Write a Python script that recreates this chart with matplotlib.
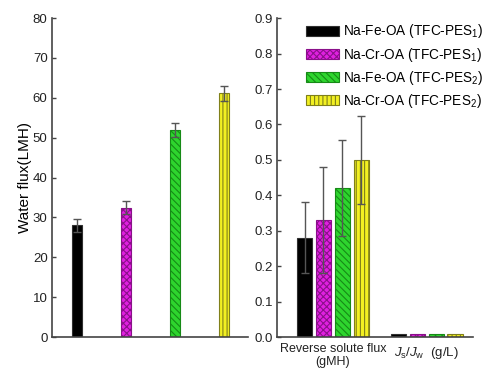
import numpy as np
import matplotlib.pyplot as plt

plt.rcParams['font.family'] = ['Liberation Sans', 'DejaVu Sans']
plt.rcParams['mathtext.fontset'] = 'custom'
plt.rcParams['mathtext.rm'] = 'Liberation Sans'
plt.rcParams['mathtext.it'] = 'Liberation Sans:italic'
plt.rcParams['hatch.linewidth'] = 0.8

# Data
labels = ['Na-Fe-OA (TFC-PES$_1$)', 'Na-Cr-OA (TFC-PES$_1$)',
          'Na-Fe-OA (TFC-PES$_2$)', 'Na-Cr-OA (TFC-PES$_2$)']
water_flux = [28.0, 32.5, 51.9, 61.1]
water_err = [1.7, 1.7, 1.8, 2.0]
rsf = [0.28, 0.33, 0.42, 0.50]
rsf_err = [0.10, 0.15, 0.135, 0.125]
ratio = [0.008, 0.010, 0.008, 0.008]
groups = ['Reverse solute flux\n(gMH)', r'$J_{\rm s}$/$J_{\rm w}$  (g/L)']

faces = ['black', '#e020e0', '#2ed52e', '#f2f022']
edges = ['#303030', '#8a108a', '#168a16', '#80801a']
hatches = [None, 'xxxxx', '\\\\\\\\\\', '||||']
spine_c = '#444444'

fig = plt.figure(figsize=(4.84, 3.70), dpi=100)
ax1 = fig.add_axes([0.107, 0.089, 0.405, 0.862])
ax2 = fig.add_axes([0.572, 0.089, 0.405, 0.862])

def style(ax):
    for s in ['top', 'right']:
        ax.spines[s].set_visible(False)
    for s in ['left', 'bottom']:
        ax.spines[s].set_color(spine_c)
        ax.spines[s].set_linewidth(1.2)
    ax.tick_params(axis='y', direction='in', length=3, width=1, colors=spine_c,
                   labelcolor='#222222', labelsize=9.5, pad=3)
    ax.tick_params(axis='x', length=0, labelbottom=False)

# left panel: water flux
x1 = np.arange(1, 5)
for i in range(4):
    ax1.bar(x1[i], water_flux[i], 0.2, color=faces[i], edgecolor=edges[i],
            hatch=hatches[i], linewidth=0.8, zorder=2)
    ax1.errorbar(x1[i], water_flux[i], yerr=water_err[i], fmt='none',
                 ecolor='#555555', elinewidth=1, capsize=3, capthick=1, zorder=3)
ax1.set_xlim(0.49, 4.49)
ax1.set_ylim(0, 80)
ax1.set_yticks(np.arange(0, 81, 10))
ax1.set_ylabel('Water flux(LMH)', fontsize=11)
ax1.yaxis.set_label_coords(-0.1, 0.5)
style(ax1)

# right panel: reverse solute flux and Js/Jw
step = 0.2
w = 0.16
handles = []
for i in range(4):
    xs = np.array([1, 2]) + (i - 1.5) * step
    vals = [rsf[i], ratio[i]]
    b = ax2.bar(xs, vals, w, color=faces[i], edgecolor=edges[i],
                hatch=hatches[i], linewidth=0.8, zorder=2, label=labels[i])
    ax2.errorbar(xs[0], vals[0], yerr=rsf_err[i], fmt='none', ecolor='#555555',
                 elinewidth=1, capsize=3, capthick=1, zorder=3)
    handles.append(b)
ax2.set_xlim(0.404, 2.49)
ax2.set_ylim(0, 0.9)
ax2.set_yticks(np.arange(0, 0.91, 0.1))
ax2.yaxis.set_major_formatter(plt.FormatStrFormatter('%.1f'))
style(ax2)

ax2.text(1, -0.016, groups[0], ha='center', va='top', fontsize=9,
         linespacing=1.15, color='#222222')
ax2.text(2, -0.022, groups[1], ha='center', va='top', fontsize=9.5,
         color='#222222')

ax2.legend(handles=handles, loc='upper right', bbox_to_anchor=(1.095, 1.012),
           frameon=False, fontsize=9.8, handlelength=2.4, handleheight=0.8,
           handletextpad=0.3, labelspacing=0.38, borderaxespad=0.2)

fig.savefig('out.png', dpi=100)
